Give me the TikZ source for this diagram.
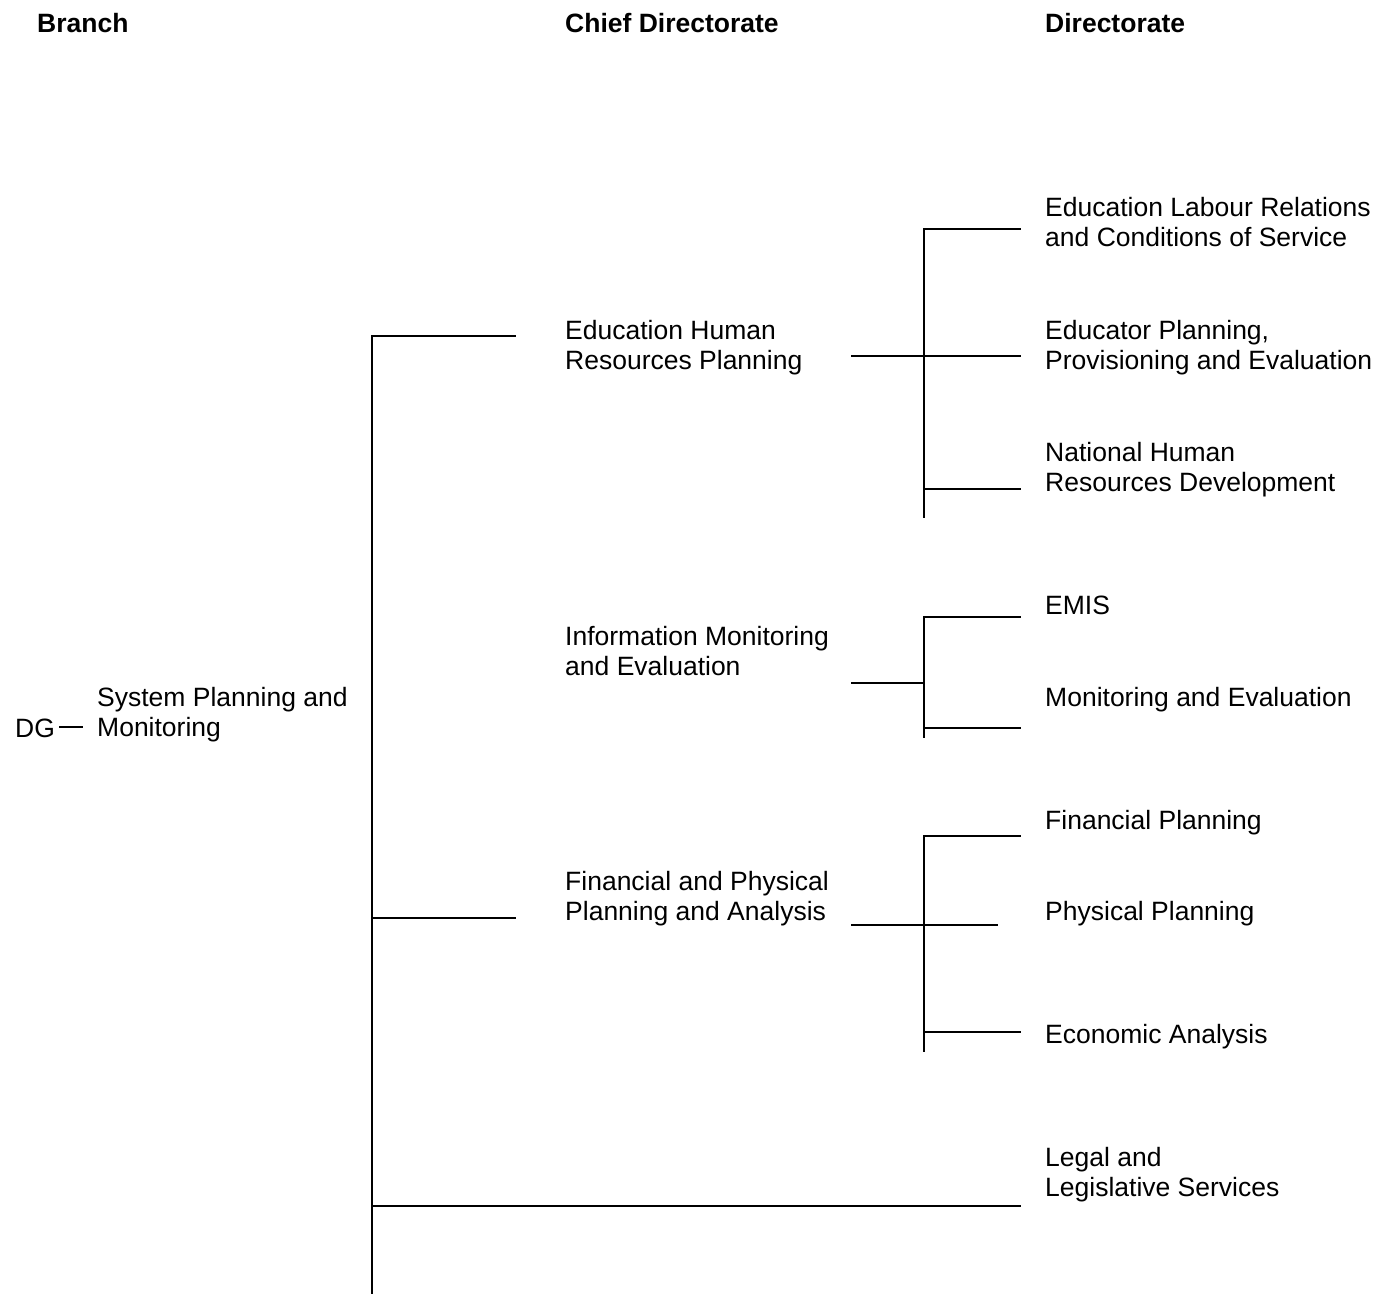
\documentclass[tikz,border=0pt]{standalone}
\usepackage{fontspec}
\setmainfont{Liberation Sans}
\begin{document}
\begin{tikzpicture}[x=1pt,y=-1pt,
  lbl/.style={anchor=base west, inner sep=0pt, align=left, font=\fontsize{26.5}{30}\selectfont},
  head/.style={lbl, font=\fontsize{26.5}{30}\selectfont\bfseries},
  link/.style={line width=2pt, line cap=rect}]
\useasboundingbox (0,0) rectangle (1380,1293);

% column headings
\node[head] (hbranch) at (37,32.5) {Branch};
\node[head] (hchief)  at (565,32.5) {Chief Directorate};
\node[head] (hdir)    at (1045,32.5) {Directorate};

% branch (two-line labels are placed by the baseline of their last line)
\node[lbl] (dg)  at (15,737.5) {DG};
\node[lbl] (spm) at (97,736.5) {System Planning and\\Monitoring};
\coordinate (dg-r)  at (59,727);
\coordinate (spm-l) at (83,727);
\draw[line width=1.6pt] (dg-r) -- (spm-l);

% chief directorates
\node[lbl] (ehrp) at (565,369.5) {Education Human\\Resources Planning};
\node[lbl] (ime)  at (565,675.5) {Information Monitoring\\and Evaluation};
\node[lbl] (fppa) at (565,920.5) {Financial and Physical\\Planning and Analysis};

% directorates
\node[lbl] (elr)  at (1045,246.5) {Education Labour Relations\\and Conditions of Service};
\node[lbl] (epp)  at (1045,369.5) {Educator Planning,\\Provisioning and Evaluation};
\node[lbl] (nhrd) at (1045,491.5) {National Human\\Resources Development};
\node[lbl] (emis) at (1045,614.5) {EMIS};
\node[lbl] (me)   at (1045,706.5) {Monitoring and Evaluation};
\node[lbl] (fp)   at (1045,829.5) {Financial Planning};
\node[lbl] (pp)   at (1045,920.5) {Physical Planning};
\node[lbl] (ea)   at (1045,1043.5) {Economic Analysis};
\node[lbl] (lls)  at (1045,1196.5) {Legal and\\Legislative Services};

% main trunk
\coordinate (trunk-top) at (372,336);
\coordinate (trunk-fp)  at (372,918);
\coordinate (trunk-ll)  at (372,1206);
\coordinate (trunk-bot) at (372,1295);
\coordinate (ehrp-in)   at (515,336);
\coordinate (fppa-in)   at (515,918);
\coordinate (lls-in)    at (1020,1206);
\draw[link] (ehrp-in) -- (trunk-top) -- (trunk-bot);
\draw[link] (trunk-fp) -- (fppa-in);
\draw[link] (trunk-ll) -- (lls-in);

% Education Human Resources Planning group
\coordinate (ehrp-out) at (852,356);
\coordinate (g1-top)   at (924,229);
\coordinate (g1-low)   at (924,489);
\coordinate (g1-bot)   at (924,517);
\coordinate (elr-in)   at (1020,229);
\coordinate (epp-in)   at (1020,356);
\coordinate (nhrd-in)  at (1020,489);
\draw[link] (elr-in) -- (g1-top) -- (g1-bot);
\draw[link] (ehrp-out) -- (epp-in);
\draw[link] (g1-low) -- (nhrd-in);

% Information Monitoring and Evaluation group
\coordinate (ime-out) at (852,683);
\coordinate (g2-top)  at (924,617);
\coordinate (g2-mid)  at (924,683);
\coordinate (g2-low)  at (924,728);
\coordinate (g2-bot)  at (924,737);
\coordinate (emis-in) at (1020,617);
\coordinate (me-in)   at (1020,728);
\draw[link] (emis-in) -- (g2-top) -- (g2-bot);
\draw[link] (ime-out) -- (g2-mid);
\draw[link] (g2-low) -- (me-in);

% Financial and Physical Planning and Analysis group
\coordinate (fppa-out) at (852,925);
\coordinate (g3-top)   at (924,836);
\coordinate (g3-low)   at (924,1032);
\coordinate (g3-bot)   at (924,1051);
\coordinate (fp-in)    at (1020,836);
\coordinate (pp-in)    at (997,925);
\coordinate (ea-in)    at (1020,1032);
\draw[link] (fp-in) -- (g3-top) -- (g3-bot);
\draw[link] (fppa-out) -- (pp-in);
\draw[link] (g3-low) -- (ea-in);
\end{tikzpicture}
\end{document}
